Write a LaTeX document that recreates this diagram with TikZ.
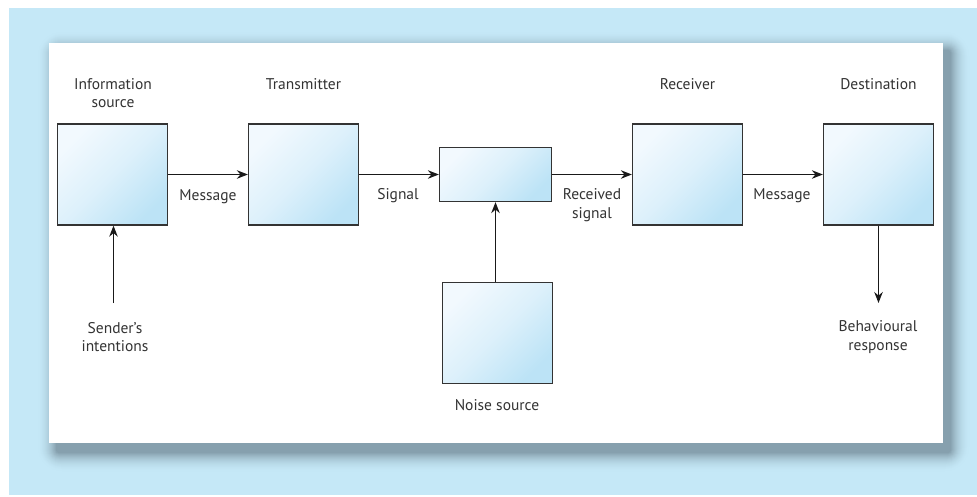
\documentclass[tikz,border=0pt]{standalone}
\usepackage{fontspec}
\setmainfont{PT Sans}
\usetikzlibrary{arrows.meta}
\definecolor{bgc}{HTML}{C5E8F7}
\definecolor{shc}{HTML}{86A0AE}
\definecolor{boxlight}{HTML}{F2F9FE}
\definecolor{boxblue}{HTML}{BCE3F6}
\definecolor{txt}{HTML}{333333}
\tikzset{
  box/.style={draw=black!80, line width=1.3pt, top color=boxlight, bottom color=boxblue, middle color=boxlight!60!boxblue, shading angle=45, inner sep=0pt},
  sqbox/.style={box, minimum width=110pt, minimum height=101pt},
  lab/.style={text=txt, font=\fontsize{15.5}{18.5}\selectfont, align=center, inner sep=0pt},
  arr/.style={draw=black!90, line width=1.3pt, -{Stealth[length=11pt,width=8.5pt]}}
}
\begin{document}
\begin{tikzpicture}[x=1pt,y=-1pt]
\useasboundingbox (0,0) rectangle (977,496);
\fill[white] (0,0) rectangle (977,496);
\fill[bgc] (9,8) rectangle (977,495);
% shadow
\foreach \i in {20,19,...,0}{
  \pgfmathtruncatemacro{\p}{100*(1-\i/20)*(1-\i/20)}
  \fill[shc!\p!bgc, rounded corners={\i*1.2pt+3pt}] (56-\i,50-\i) rectangle (951+\i,453+\i);
}
\fill[white] (49,43) rectangle (943,443);
% boxes
\node[sqbox] (src) at (112.5,174.5) {};
\node[sqbox] (tx) at (303.5,174.5) {};
\node[box, minimum width=112pt, minimum height=54pt] (mid) at (495.5,174.5) {};
\node[sqbox] (rx) at (687.5,174.5) {};
\node[sqbox] (dst) at (878.5,174.5) {};
\node[sqbox] (noise) at (497.5,333) {};
% titles
\node[lab] (tsrc) at (113,93) {Information\\source};
\node[lab] (ttx) at (303.5,84) {Transmitter};
\node[lab] (trx) at (687.5,84) {Receiver};
\node[lab] (tdst) at (878.5,84) {Destination};
\node[lab] (tnoise) at (497,405) {Noise source};
% arrow labels
\node[lab] (l1) at (208,197) {Message};
\node[lab] (l2) at (398,196) {Signal};
\node[lab] (l3) at (592,205) {Received\\signal};
\node[lab] (l4) at (782,196) {Message};
\node[lab] (lsend) at (115,337) {Sender’s\\intentions};
\node[lab] (lbeh) at (878,337) {Behavioural\\response};
\coordinate (sendtop) at (113.5,303);
\coordinate (behtip) at (878.5,303);
% connectors
\draw[arr] (src.east) -- (tx.west);
\draw[arr] (tx.east |- mid.west) -- (mid.west);
\draw[arr] (mid.east) -- (mid.east -| rx.west);
\draw[arr] (rx.east) -- (dst.west);
\draw[arr] (sendtop) -- (sendtop |- src.south);
\draw[arr] (noise.north -| mid.south) -- (mid.south);
\draw[arr] (dst.south -| behtip) -- (behtip);
\end{tikzpicture}
\end{document}
